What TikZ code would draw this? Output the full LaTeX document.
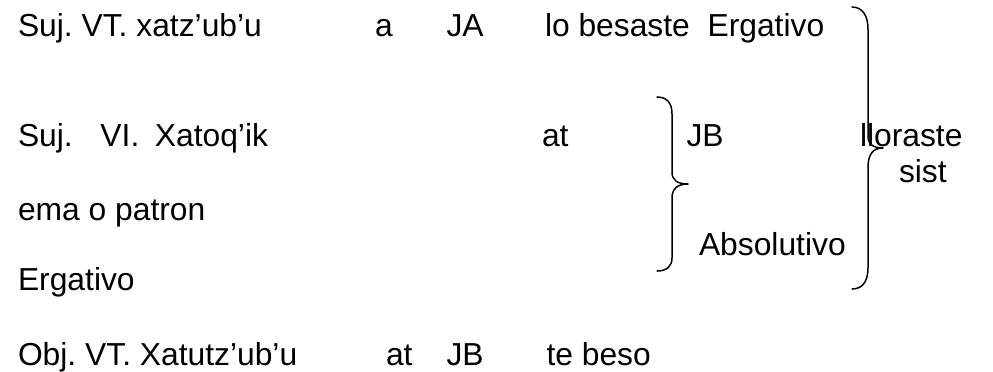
\documentclass[tikz,border=0pt]{standalone}
\usepackage{fontspec}
\setmainfont{Liberation Sans}
\frenchspacing
\begin{document}
\begin{tikzpicture}[x=1pt,y=-1pt,
  lbl/.style={anchor=base west,inner sep=0pt,outer sep=0pt,
              font=\fontsize{31.8}{38}\selectfont},
  bracestroke/.style={line width=1.5pt,line cap=round,line join=round}]
\useasboundingbox (0,0) rectangle (993,372);

% first row: transitive subject
\node[lbl] (s1)  at (18,36)    {Suj. VT. xatz’ub’u};
\node[lbl] (a1)  at (375,36)   {a};
\node[lbl] (ja)  at (446.5,36) {JA};
\node[lbl] (erg1) at (545,36)  {lo besaste\hspace{8.8pt} Ergativo};

% second row: intransitive subject
\node[lbl] (s2)  at (18,146)   {Suj.\hspace{27.7pt}VI.\hspace{15.5pt}Xatoq’ik};
\node[lbl] (at2) at (542,146)  {at};
\node[lbl] (jb2) at (686.5,146){JB};
\node[lbl] (llo) at (860,146)  {lloraste};
\node[lbl] (sist) at (899,182) {sist};

\node[lbl] (ema) at (18,220)   {ema o patron};
\node[lbl] (abs) at (699,255)  {Absolutivo};
\node[lbl] (erg2) at (18,290)  {Ergativo};

% last row: transitive object
\node[lbl] (o1)  at (18,365)   {Obj. VT. Xatutz’ub’u};
\node[lbl] (at3) at (386,365)  {at};
\node[lbl] (jb3) at (446.5,365){JB};
\node[lbl] (tb)  at (546.5,365){te beso};

% inner brace grouping JB / Absolutivo
\coordinate (smalltip) at (688,184);
\draw[bracestroke] (657,97) .. controls (667,97) and (672,103) .. (672,114)
  -- (672,172) .. controls (672,180) and (677,184) .. (smalltip)
  .. controls (677,184) and (672,189) .. (672,198)
  -- (672,258) .. controls (672,266) and (667,271) .. (657,271);

% outer brace grouping the whole system
\coordinate (bigtip) at (883,148);
\draw[bracestroke] (852,7) .. controls (862,7) and (868,15) .. (868,29)
  -- (868,136) .. controls (868,144) and (873,148) .. (bigtip)
  .. controls (873,148) and (868,154) .. (868,168)
  -- (868,268) .. controls (868,282) and (862,289) .. (852,289);
\end{tikzpicture}
\end{document}
